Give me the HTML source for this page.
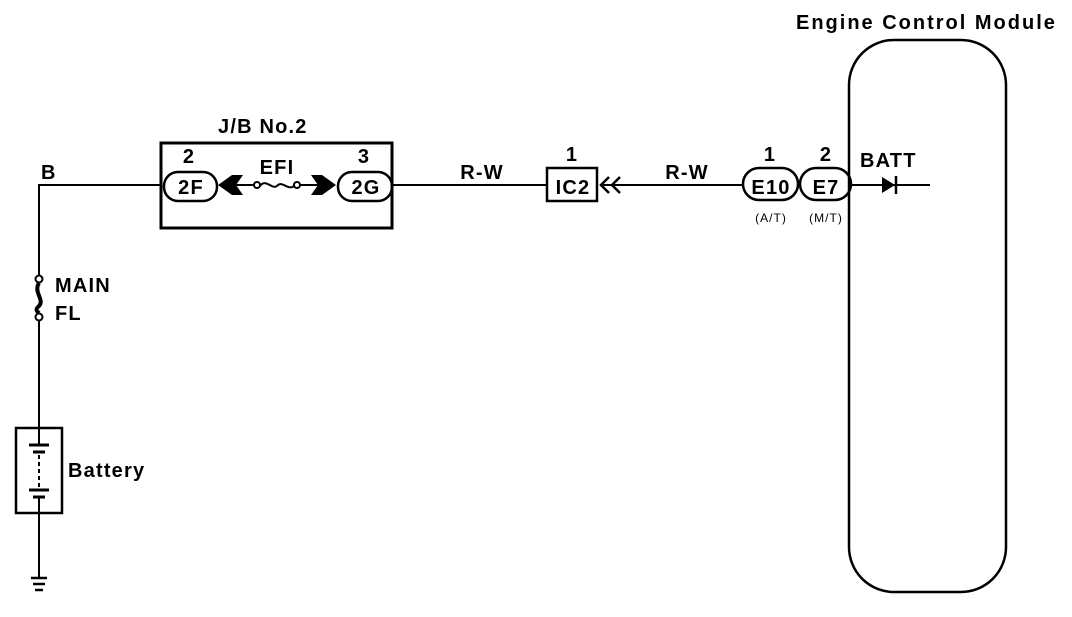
<!DOCTYPE html>
<html><head><style>
body{margin:0;background:#fff}
svg text{font-family:"Liberation Sans",sans-serif;fill:#000;font-weight:bold}
</style></head><body>
<svg width="1072" height="612" viewBox="0 0 1072 612" xmlns="http://www.w3.org/2000/svg">
<g stroke="#000" stroke-width="2" fill="none">
<polyline points="160,185 39,185 39,275"/>
<line x1="39" y1="321" x2="39" y2="432"/>
<line x1="39" y1="508" x2="39" y2="578"/>
<circle cx="39" cy="279" r="3.5" fill="#fff"/>
<circle cx="39" cy="317" r="3.5" fill="#fff"/>
<path d="M39,283 C33,292 45,300 39,306 C34,310 38,312 39,313" stroke-width="4"/>
<rect x="16" y="428" width="46" height="85" stroke-width="2.5"/>
<line x1="39" y1="432" x2="39" y2="445"/>
<line x1="29" y1="445" x2="49" y2="445" stroke-width="3"/>
<line x1="33" y1="452" x2="45" y2="452" stroke-width="3"/>
<line x1="39" y1="455" x2="39" y2="487" stroke-dasharray="4,3"/>
<line x1="29" y1="490" x2="49" y2="490" stroke-width="3"/>
<line x1="33" y1="497" x2="45" y2="497" stroke-width="3"/>
<line x1="39" y1="497" x2="39" y2="508"/>
<line x1="31" y1="578" x2="47" y2="578" stroke-width="2.5"/>
<line x1="33" y1="584" x2="45" y2="584" stroke-width="2.5"/>
<line x1="35" y1="590" x2="43" y2="590" stroke-width="2.5"/>
<rect x="161" y="143" width="231" height="85" stroke-width="3"/>
<rect x="164" y="172" width="53" height="29" rx="14" stroke-width="2.5"/>
<rect x="338" y="172" width="54" height="29" rx="14" stroke-width="2.5"/>
<line x1="235" y1="185" x2="254" y2="185"/>
<line x1="300" y1="185" x2="318" y2="185"/>
<circle cx="257" cy="185" r="3" fill="#fff"/>
<circle cx="297" cy="185" r="3" fill="#fff"/>
<path d="M260,186 C266,178 272,190 277,186 C282,180 288,191 294,186"/>
<line x1="392" y1="185" x2="547" y2="185"/>
<line x1="600" y1="185" x2="743" y2="185"/>
<rect x="547" y="168" width="50" height="33" stroke-width="2.5"/>
<polyline points="609,177 601,185 609,193" stroke-width="2.5"/>
<polyline points="620,177 612,185 620,193" stroke-width="2.5"/>
<rect x="743" y="168" width="55" height="32" rx="16" stroke-width="2.5"/>
<rect x="800" y="168" width="51" height="32" rx="16" stroke-width="2.5"/>
<rect x="849" y="40" width="157" height="552" rx="45" stroke-width="2.5"/>
<line x1="851" y1="185" x2="930" y2="185"/>
<line x1="896" y1="176" x2="896" y2="194" stroke-width="2.5"/>
</g>
<polygon points="218,185 232,175 243,175 236,185 243,195 232,195" fill="#000"/>
<polygon points="336,185 322,175 311,175 318,185 311,195 322,195" fill="#000"/>
<polygon points="882,177 882,193 895,185" fill="#000"/>
<g font-size="20" letter-spacing="1.2">
<text x="796" y="29" letter-spacing="2">Engine Control Module</text>
<text x="218" y="133">J/B No.2</text>
<text x="41" y="179">B</text>
<text x="189" y="163" text-anchor="middle">2</text>
<text x="364" y="163" text-anchor="middle">3</text>
<text x="277" y="174" text-anchor="middle">EFI</text>
<text x="191" y="194" text-anchor="middle">2F</text>
<text x="366" y="194" text-anchor="middle">2G</text>
<text x="482" y="179" text-anchor="middle">R-W</text>
<text x="687" y="179" text-anchor="middle">R-W</text>
<text x="572" y="161" text-anchor="middle">1</text>
<text x="573" y="194" text-anchor="middle">IC2</text>
<text x="770" y="161" text-anchor="middle">1</text>
<text x="826" y="161" text-anchor="middle">2</text>
<text x="771" y="194" text-anchor="middle">E10</text>
<text x="826" y="194" text-anchor="middle">E7</text>
<text x="860" y="167">BATT</text>
<text x="55" y="292">MAIN</text>
<text x="55" y="320">FL</text>
<text x="68" y="477">Battery</text>
</g>
<g font-size="12" letter-spacing="1">
<text x="771" y="222" text-anchor="middle" style="font-weight:normal">(A/T)</text>
<text x="826" y="222" text-anchor="middle" style="font-weight:normal">(M/T)</text>
</g>
</svg>
</body></html>
